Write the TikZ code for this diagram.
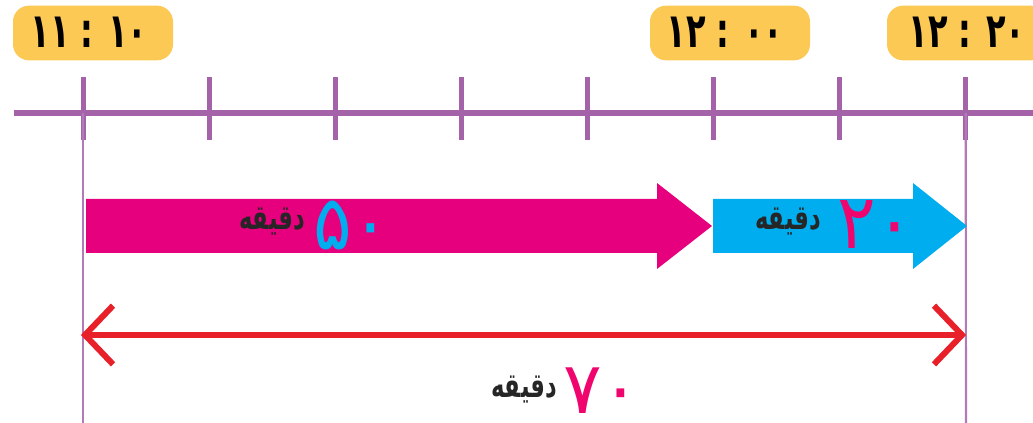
\documentclass[tikz,border=0pt]{standalone}
\usepackage{fontspec}
\usepackage{graphicx}
\TeXXeTstate=1
\newfontfamily\arabicfont[Script=Arabic]{DejaVu Sans}
\newfontfamily\digitfont{DejaVu Sans}
\newcommand\stretchy[2]{\scalebox{1}[#1]{#2}}
\definecolor{tlpurple}{HTML}{A462A9}
\definecolor{boxyellow}{HTML}{FCC955}
\definecolor{arrmag}{HTML}{E6007E}
\definecolor{arrcyan}{HTML}{00AEEF}
\definecolor{numpink}{HTML}{F0046E}
\definecolor{dblred}{HTML}{E8202A}
\tikzset{
  timebox/.style={fill=boxyellow, rounded corners=12pt, minimum width=120pt, minimum height=41pt, inner sep=0pt},
  timetext/.style={font=\digitfont\bfseries\fontsize{24}{26}\selectfont, inner sep=0pt, text=black},
  tick/.style={draw=tlpurple, line width=3.75pt},
  guide/.style={draw=tlpurple!85, line width=1.6pt},
  word/.style={font=\arabicfont\bfseries\fontsize{17}{20}\selectfont, inner sep=0pt, text=black!85},
  bignum/.style={font=\digitfont\fontsize{54}{56}\selectfont, inner sep=0pt},
  dbl/.style={draw=dblred, line width=4.5pt}
}
\begin{document}
\begin{tikzpicture}[x=0.75pt,y=-0.75pt]
\useasboundingbox (0,0) rectangle (1033,423);
% time boxes
\node[timebox] (b1) at (93,33) {};
\node[timebox] (b2) at (730,33) {};
\node[timebox] (b3) at (967,33) {};
\node[timetext] (t1) at (89,32) {\stretchy{1.5}{\beginR\beginL ۱۱ : ۱۰\endL\endR}};
\node[timetext] (t2) at (725,32) {\stretchy{1.5}{\beginR\beginL ۱۲ : ۰۰\endL\endR}};
\node[timetext] (t3) at (967,32) {\stretchy{1.5}{\beginR\beginL ۱۲ : ۲۰\endL\endR}};
% timeline
\coordinate (la) at (14,113);
\coordinate (lb) at (1033,113);
\draw[tlpurple, line width=4.5pt] (la) -- (lb);
\foreach \i in {0,...,7} {
  \coordinate (k\i) at ({83+126.1*\i},113);
  \draw[tick] ([yshift=-20]k\i) -- ([yshift=27]k\i);
}
\coordinate (g1) at (83,423);
\coordinate (g2) at (966,423);
\draw[guide] (k0) -- (g1);
\draw[guide] (k7) -- (g2);
% magenta arrow
\fill[arrmag] (86,199) -- (657,199) -- (657,183) -- (712,226) -- (657,269) -- (657,253) -- (86,253) -- cycle;
% cyan arrow
\fill[arrcyan] (713,199) -- (913,199) -- (913,183) -- (967,226) -- (913,269) -- (913,253) -- (713,253) -- cycle;
% labels in arrows
\node[word] (w50) at (272,222) {\stretchy{1.5}{\beginR دقیقه\endR}};
\node[bignum, text=arrcyan] (n50) at (352,225) {\stretchy{1.05}{۵۰}};
\node[word] (w20) at (788,222) {\stretchy{1.5}{\beginR دقیقه\endR}};
\node[bignum, text=numpink] (n20) at (876,225) {\stretchy{1.05}{۲۰}};
% double arrow
\coordinate (dl) at (85,335);
\coordinate (dr) at (962,335);
\draw[dbl] (dl) -- (dr);
\draw[dbl] ([xshift=21,yshift=-22]dl) -- (dl) -- ([xshift=21,yshift=22]dl);
\draw[dbl] ([xshift=-21,yshift=-22]dr) -- (dr) -- ([xshift=-21,yshift=22]dr);
% total
\node[word] (w70) at (524,390) {\stretchy{1.5}{\beginR دقیقه\endR}};
\node[bignum, text=numpink, anchor=base] (n70) at (602,414) {\smash{۷۰}};
\end{tikzpicture}
\end{document}
